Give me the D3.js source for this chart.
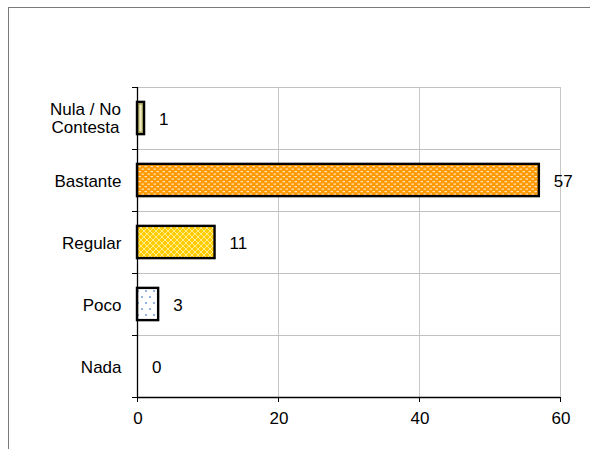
<!DOCTYPE html>
<html><head><meta charset="utf-8">
<script src="https://cdn.jsdelivr.net/npm/d3@7"></script>
<style>body{margin:0;background:#fff}svg{display:block}text{font-family:"Liberation Sans",Arial,sans-serif;fill:#000}</style>
</head><body>
<script>
const categories = ["Nula / No Contesta", "Bastante", "Regular", "Poco", "Nada"];
const values = [1, 57, 11, 3, 0];
const xTicks = [0, 20, 40, 60];
const fills = ["url(#pNula)", "url(#pBastante)", "url(#pRegular)", "url(#pPoco)", "#fff"];

(function () {
const W = 590, H = 449, FS = 17;
const svg = d3.select("body").append("svg").attr("width", W).attr("height", H);
const defs = svg.append("defs");

const pN = defs.append("pattern").attr("id","pNula").attr("patternUnits","userSpaceOnUse").attr("width",8).attr("height",4);
pN.append("rect").attr("width",8).attr("height",4).attr("fill","#bdb66a");
const pB = defs.append("pattern").attr("id","pBastante").attr("patternUnits","userSpaceOnUse").attr("width",6).attr("height",5);
pB.append("rect").attr("width",6).attr("height",5).attr("fill","#ff9900");
pB.append("rect").attr("x",0.5).attr("y",1).attr("width",2.5).attr("height",1.2).attr("fill","#ffe6c0");
pB.append("rect").attr("x",3.5).attr("y",3.5).attr("width",2.5).attr("height",1.2).attr("fill","#ffe6c0");
const pR = defs.append("pattern").attr("id","pRegular").attr("patternUnits","userSpaceOnUse").attr("width",6).attr("height",6);
pR.append("rect").attr("width",6).attr("height",6).attr("fill","#ffcc00");
pR.append("path").attr("d","M0,3L3,0L6,3L3,6Z").attr("fill","none").attr("stroke","#fff0a0").attr("stroke-width",0.9);
const pP = defs.append("pattern").attr("id","pPoco").attr("patternUnits","userSpaceOnUse").attr("width",8).attr("height",12);
pP.append("rect").attr("width",8).attr("height",12).attr("fill","#fff");
pP.append("circle").attr("cx",2).attr("cy",3).attr("r",1).attr("fill","#6f9ad8");
pP.append("circle").attr("cx",6).attr("cy",9).attr("r",1).attr("fill","#6f9ad8");

svg.append("rect").attr("x",8.5).attr("y",7.5).attr("width",700).attr("height",600)
  .attr("fill","none").attr("stroke","#7a7a7a").attr("stroke-width",1);

const pLeft = 137, pRight = 560, pTop = 87, pBottom = 397;
const x = d3.scaleLinear().domain([0, 60]).range([pLeft, pRight]);
const y = d3.scaleBand().domain(categories).range([pTop, pBottom]).paddingInner(0.48).paddingOuter(0.24);
const bandStep = (pBottom - pTop) / categories.length;

const g = svg.append("g");
g.selectAll(".vg").data(xTicks.slice(1)).join("line")
  .attr("x1", d => x(d) + 0.5).attr("x2", d => x(d) + 0.5).attr("y1", pTop).attr("y2", pBottom)
  .attr("stroke", "#c8c8c8").attr("stroke-width", 1);
const bounds = d3.range(categories.length).map(i => pTop + i * bandStep);
g.selectAll(".hg").data(bounds).join("line")
  .attr("x1", pLeft - 5).attr("x2", pRight).attr("y1", d => Math.round(d) + 0.5).attr("y2", d => Math.round(d) + 0.5)
  .attr("stroke", "#c0c0c0").attr("stroke-width", 1);
g.selectAll(".ht").data(bounds.concat([pBottom])).join("line")
  .attr("x1", pLeft - 5).attr("x2", pLeft).attr("y1", d => Math.round(d) + 0.5).attr("y2", d => Math.round(d) + 0.5)
  .attr("stroke", "#000").attr("stroke-width", 1);

g.selectAll(".bar").data(values).join("rect")
  .attr("x", x(0)).attr("y", (d, i) => y(categories[i]))
  .attr("width", d => x(d) - x(0)).attr("height", y.bandwidth())
  .attr("fill", (d, i) => fills[i]).attr("stroke", "#000").attr("stroke-width", 2.4)
  .style("display", d => d === 0 ? "none" : null);
g.append("rect").attr("x", x(0) + 2.5).attr("y", y(categories[0]) + 3)
  .attr("width", Math.max(0, x(values[0]) - x(0) - 5)).attr("height", y.bandwidth() - 6)
  .attr("fill", "#eeedc4");

g.append("line").attr("x1", pLeft + 0.5).attr("x2", pLeft + 0.5).attr("y1", pTop).attr("y2", pBottom)
  .attr("stroke", "#000").attr("stroke-width", 1.3);
g.append("line").attr("x1", pLeft).attr("x2", pRight).attr("y1", pBottom + 0.5).attr("y2", pBottom + 0.5)
  .attr("stroke", "#000").attr("stroke-width", 1.3);
g.selectAll(".xt").data(xTicks).join("line")
  .attr("x1", d => x(d) + 0.5).attr("x2", d => x(d) + 0.5).attr("y1", pBottom).attr("y2", pBottom + 5)
  .attr("stroke", "#000").attr("stroke-width", 1);
g.selectAll(".xl").data(xTicks).join("text")
  .attr("x", d => x(d) + 1).attr("y", pBottom + 27).attr("text-anchor", "middle")
  .attr("font-size", FS).text(d => d);

g.selectAll(".vl").data(values).join("text")
  .attr("x", d => x(d) + 15).attr("y", (d, i) => y(categories[i]) + y.bandwidth() / 2 + 6.5)
  .attr("font-size", FS).text(d => d);

categories.forEach((c, i) => {
  const cy = y(c) + y.bandwidth() / 2;
  if (c === "Nula / No Contesta") {
    const t = g.append("text").attr("text-anchor", "middle").attr("font-size", FS);
    t.append("tspan").attr("x", 85.5).attr("y", cy - 3).text("Nula / No");
    t.append("tspan").attr("x", 85.5).attr("y", cy + 15).text("Contesta");
  } else {
    g.append("text").attr("x", 121.5).attr("y", cy + 6.5).attr("text-anchor", "end").attr("font-size", FS).text(c);
  }
});
})();
</script>
</body></html>
